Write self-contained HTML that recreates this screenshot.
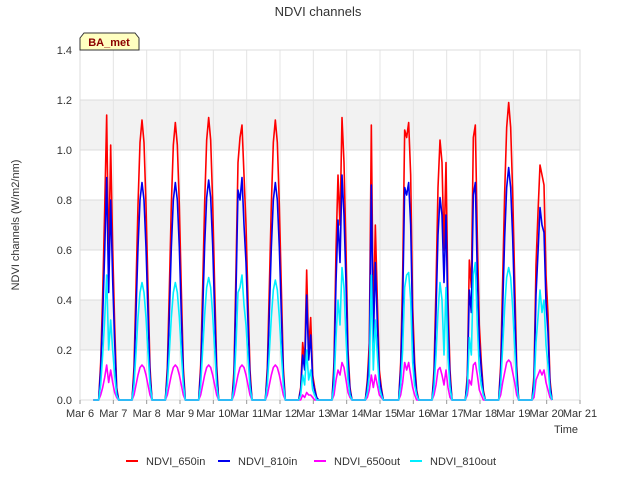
<!DOCTYPE html>
<html><head><meta charset="utf-8"><style>
body{margin:0;background:#fff;}
svg{display:block;font-family:"Liberation Sans",sans-serif;}
</style></head><body>
<svg id="chart" width="640" height="480">
<rect x="0" y="0" width="640" height="480" fill="#fff"/>
<text x="318" y="16" text-anchor="middle" font-size="13" fill="#333">NDVI channels</text>
<g id="bands"></g>
<g id="grid"></g>
<g id="series"></g>
<g id="axes"></g>
<text x="19" y="225" text-anchor="middle" font-size="11" fill="#333" transform="rotate(-90 19 225)">NDVI channels (W/m2/nm)</text>
<text x="566" y="433" text-anchor="middle" font-size="11" fill="#333">Time</text>
<g>
<path d="M80,50 L80,38 L84,33 L135,33 L139,38 L139,50 Z" fill="#ffffc0" stroke="#333" stroke-width="1"/>
<text x="109" y="46" text-anchor="middle" font-size="11" font-weight="bold" fill="#8b0000">BA_met</text>
</g>
<g id="legend"></g>
</svg>
<script>
const dayLabels=["Mar 6","Mar 7","Mar 8","Mar 9","Mar 10","Mar 11","Mar 12","Mar 13","Mar 14","Mar 15","Mar 16","Mar 17","Mar 18","Mar 19","Mar 20","Mar 21"];
const yTicks=[0,0.2,0.4,0.6,0.8,1.0,1.2,1.4];
const seriesNames=["NDVI_650in","NDVI_810in","NDVI_650out","NDVI_810out"];
const seriesColors=["#ff0000","#0000ee","#ff00ff","#00eeff"];
const stepOffsets=[0.56,0.62,0.68,0.74,0.8,0.86,0.92,0.98,1.04,1.1,1.16];
const ndvi650in=[
[0,0.15,0.42,0.76,1.14,0.55,1.02,0.61,0.3,0.05,0],
[0,0.13,0.45,0.78,1.03,1.12,1.03,0.78,0.45,0.13,0],
[0,0.13,0.44,0.78,1.02,1.11,1.02,0.78,0.44,0.13,0],
[0,0.14,0.45,0.79,1.04,1.13,1.04,0.79,0.45,0.14,0],
[0,0.12,0.52,0.95,1.05,1.1,0.9,0.7,0.4,0.12,0],
[0,0.13,0.45,0.78,1.03,1.12,1.03,0.78,0.45,0.13,0],
[0,0.05,0.23,0.15,0.52,0.2,0.33,0.1,0.05,0.01,0],
[0,0.15,0.6,0.9,0.7,1.13,0.95,0.6,0.2,0.05,0],
[0,0.08,0.23,1.1,0.3,0.7,0.4,0.12,0.05,0,0],
[0,0.15,0.5,1.08,1.05,1.11,0.9,0.37,0.15,0.04,0],
[0,0.12,0.45,0.85,1.04,0.95,0.6,0.95,0.4,0.12,0],
[0,0.1,0.56,0.45,1.05,1.1,0.65,0.3,0.15,0.04,0],
[0,0.14,0.48,0.83,1.09,1.19,1.09,0.83,0.48,0.14,0],
[0,0.1,0.54,0.75,0.94,0.9,0.86,0.5,0.34,0.08,0]];
const ndvi810in=[
[0,0.12,0.33,0.59,0.89,0.43,0.8,0.48,0.23,0.04,0],
[0,0.1,0.35,0.61,0.8,0.87,0.8,0.61,0.35,0.1,0],
[0,0.1,0.34,0.61,0.8,0.87,0.8,0.61,0.34,0.1,0],
[0,0.11,0.35,0.62,0.81,0.88,0.81,0.62,0.35,0.11,0],
[0,0.09,0.43,0.84,0.8,0.89,0.7,0.55,0.31,0.09,0],
[0,0.1,0.35,0.61,0.8,0.87,0.8,0.61,0.35,0.1,0],
[0,0.04,0.18,0.12,0.42,0.16,0.26,0.08,0.04,0.01,0],
[0,0.12,0.47,0.72,0.55,0.9,0.74,0.47,0.16,0.04,0],
[0,0.06,0.18,0.86,0.23,0.55,0.31,0.09,0.04,0,0],
[0,0.12,0.39,0.85,0.82,0.87,0.7,0.29,0.12,0.03,0],
[0,0.09,0.35,0.66,0.81,0.74,0.47,0.74,0.31,0.09,0],
[0,0.08,0.44,0.35,0.82,0.87,0.5,0.23,0.12,0.03,0],
[0,0.11,0.37,0.65,0.85,0.93,0.85,0.65,0.37,0.11,0],
[0,0.08,0.42,0.59,0.77,0.7,0.67,0.39,0.27,0.06,0]];
const ndvi650out=[
[0,0.02,0.05,0.09,0.14,0.07,0.12,0.07,0.03,0.01,0],
[0,0.02,0.06,0.1,0.13,0.14,0.13,0.1,0.06,0.02,0],
[0,0.02,0.06,0.1,0.13,0.14,0.13,0.1,0.06,0.02,0],
[0,0.02,0.06,0.1,0.13,0.14,0.13,0.1,0.06,0.02,0],
[0,0.02,0.06,0.1,0.13,0.14,0.13,0.1,0.06,0.02,0],
[0,0.02,0.06,0.1,0.13,0.14,0.13,0.1,0.06,0.02,0],
[0,0,0.02,0.01,0.03,0.02,0.02,0.01,0,0,0],
[0,0.02,0.08,0.12,0.1,0.15,0.13,0.08,0.03,0.01,0],
[0,0.01,0.04,0.1,0.05,0.1,0.06,0.02,0.01,0,0],
[0,0.02,0.07,0.15,0.12,0.15,0.1,0.05,0.02,0,0],
[0,0.02,0.06,0.12,0.13,0.1,0.06,0.12,0.05,0.01,0],
[0,0.02,0.08,0.06,0.14,0.15,0.1,0.04,0.02,0,0],
[0,0.02,0.07,0.11,0.15,0.16,0.15,0.11,0.07,0.02,0],
[0,0.01,0.08,0.1,0.12,0.1,0.12,0.07,0.04,0.01,0]];
const ndvi810out=[
[0,0.06,0.18,0.32,0.5,0.2,0.32,0.2,0.1,0.02,0],
[0,0.06,0.19,0.33,0.43,0.47,0.43,0.33,0.19,0.06,0],
[0,0.06,0.19,0.33,0.43,0.47,0.43,0.33,0.19,0.06,0],
[0,0.06,0.2,0.34,0.45,0.49,0.45,0.34,0.2,0.06,0],
[0,0.05,0.22,0.43,0.45,0.5,0.38,0.3,0.17,0.05,0],
[0,0.06,0.19,0.33,0.44,0.48,0.44,0.33,0.19,0.06,0],
[0,0.02,0.1,0.06,0.2,0.08,0.12,0.04,0.02,0,0],
[0,0.06,0.25,0.4,0.3,0.53,0.45,0.25,0.08,0.02,0],
[0,0.03,0.1,0.5,0.12,0.32,0.18,0.05,0.02,0,0],
[0,0.06,0.2,0.45,0.5,0.51,0.4,0.15,0.06,0.02,0],
[0,0.05,0.18,0.35,0.47,0.4,0.18,0.45,0.17,0.05,0],
[0,0.04,0.25,0.18,0.5,0.55,0.3,0.12,0.06,0.02,0],
[0,0.06,0.21,0.37,0.49,0.53,0.49,0.37,0.21,0.06,0],
[0,0.04,0.23,0.33,0.44,0.35,0.4,0.22,0.14,0.03,0]];
const allSeries=[ndvi650in,ndvi810in,ndvi650out,ndvi810out];

const NS="http://www.w3.org/2000/svg";
const L=80,R=580,T=50,B=400,yMax=1.4,nDays=15;
function xs(d){return L+(R-L)*d/nDays;}
function ys(v){return B-(B-T)*v/yMax;}
function mk(tag,attrs,parent){const e=document.createElementNS(NS,tag);for(const k in attrs)e.setAttribute(k,attrs[k]);parent.appendChild(e);return e;}

const bands=document.getElementById('bands');
const pb=mk('rect',{x:L,y:T,width:R-L,height:B-T,fill:'#fff'},bands);


for(let i=1;i<yTicks.length-1;i+=2){
  const b=mk('rect',{x:L,y:ys(yTicks[i+1]),width:R-L,height:ys(yTicks[i])-ys(yTicks[i+1]),fill:'#f2f2f2'},bands);
  
  
}
const grid=document.getElementById('grid');
yTicks.forEach(v=>{
  const l=mk('line',{x1:L,x2:R,y1:ys(v),y2:ys(v),stroke:'#dcdcdc','stroke-width':1},grid);
  
  
});
dayLabels.forEach((d,i)=>{
  const l=mk('line',{x1:xs(i),x2:xs(i),y1:T,y2:B,stroke:'#e4e4e4','stroke-width':1},grid);
  
  
});
mk('rect',{x:L,y:T,width:R-L,height:B-T,fill:'none',stroke:'#ddd'},grid);

const sg=document.getElementById('series');
allSeries.forEach((s,si)=>{
  const pts=[[0.4,0]];
  s.forEach((day,di)=>day.forEach((v,k)=>pts.push([di+stepOffsets[k],v])));
  const d=pts.map((p,i)=>(i?'L':'M')+xs(p[0]).toFixed(2)+','+ys(p[1]).toFixed(2)).join(' ');
  const p=mk('path',{d:d,fill:'none',stroke:seriesColors[si],'stroke-width':1.6,'stroke-linejoin':'round'},sg);
  
  
});

const ax=document.getElementById('axes');
yTicks.forEach(v=>{
  const t=mk('text',{x:L-8,y:ys(v)+4,'text-anchor':'end','font-size':11,fill:'#333'},ax);
  t.textContent=v.toFixed(1);
  
  
});
dayLabels.forEach((d,i)=>{
  mk('line',{x1:xs(i),x2:xs(i),y1:B,y2:B+4,stroke:'#999'},ax);
  const t=mk('text',{x:xs(i),y:B+17,'text-anchor':'middle','font-size':11,fill:'#333'},ax);
  t.textContent=d;
  
  
});

const lg=document.getElementById('legend');
const lx=[126,218,314,410];
seriesNames.forEach((n,i)=>{
  const g=mk('g',{},lg);
  
  
  mk('line',{x1:lx[i],x2:lx[i]+12,y1:461,y2:461,stroke:seriesColors[i],'stroke-width':2},g);
  const t=mk('text',{x:lx[i]+20,y:465,'font-size':11,fill:'#333'},g);
  t.textContent=n;
});
</script>
</body></html>
